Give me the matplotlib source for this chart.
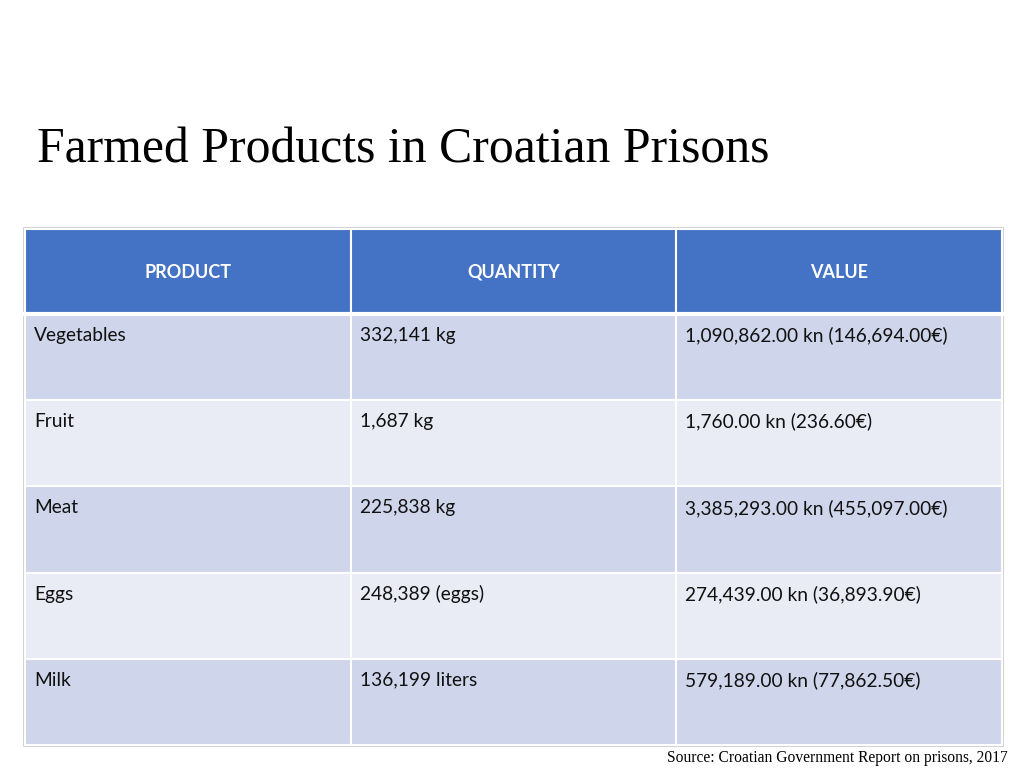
#!/usr/bin/env python3
"""Farmed products table figure."""
import matplotlib
matplotlib.use("Agg")
import matplotlib.pyplot as plt
from matplotlib.patches import Rectangle

TITLE = "Farmed Products in Croatian Prisons"
SOURCE = "Source: Croatian Government Report on prisons, 2017"
HEADERS = ["PRODUCT", "QUANTITY", "VALUE"]
PRODUCTS = ["Vegetables", "Fruit", "Meat", "Eggs", "Milk"]
QUANTITIES = ["332,141 kg", "1,687 kg", "225,838 kg", "248,389 (eggs)", "136,199 liters"]
VALUES = ["1,090,862.00 kn (146,694.00€)", "1,760.00 kn (236.60€)",
          "3,385,293.00 kn (455,097.00€)", "274,439.00 kn (36,893.90€)",
          "579,189.00 kn (77,862.50€)"]

HEAD_C = "#4472C4"
DARK_C = "#CFD5EA"
LIGHT_C = "#E9EBF5"
CELL_FONT = ["Lato", "DejaVu Sans"]


def main():
    fig = plt.figure(figsize=(10.24, 7.68), dpi=100)
    ax = fig.add_axes([0, 0, 1, 1])
    ax.set_xlim(0, 1024)
    ax.set_ylim(768, 0)
    ax.axis("off")

    ax.text(37, 150, TITLE, fontsize=35.8, family="Liberation Serif",
            va="center", ha="left", color="black")

    # table geometry (pixels)
    left, right = 25, 1002
    col_edges = [left, 351, 676, right]
    head_top, head_bot = 229, 314
    row_h = (745 - head_bot) / len(PRODUCTS)

    # outer frame
    ax.add_patch(Rectangle((left - 1, head_top - 1), right - left + 2, 745 - head_top + 2,
                           facecolor="none", edgecolor="#C8C8C8", lw=1.2))

    for j, h in enumerate(HEADERS):
        x0, x1 = col_edges[j], col_edges[j + 1]
        ax.add_patch(Rectangle((x0, head_top), x1 - x0, head_bot - head_top,
                               facecolor=HEAD_C, edgecolor="white", lw=1.5))
        ax.text((x0 + x1) / 2, (head_top + head_bot) / 2 + 1, h, fontsize=13,
                fontweight="bold", color="white", ha="center", va="center",
                family=CELL_FONT)

    rows = list(zip(PRODUCTS, QUANTITIES, VALUES))
    for i, row in enumerate(rows):
        y0 = head_bot + i * row_h
        fc = DARK_C if i % 2 == 0 else LIGHT_C
        for j, val in enumerate(row):
            x0, x1 = col_edges[j], col_edges[j + 1]
            ax.add_patch(Rectangle((x0, y0), x1 - x0, row_h,
                                   facecolor=fc, edgecolor="white", lw=1.5))
            ax.text(x0 + 9, y0 + 21.5, val, fontsize=13.8, color="#111111",
                    ha="left", va="center", family=CELL_FONT)

    # thicker white line under header
    ax.plot([left, right], [head_bot, head_bot], color="white", lw=3)

    ax.text(1008, 758, SOURCE, fontsize=11.2, family="Liberation Serif",
            ha="right", va="center", color="black")

    fig.savefig("out.png", dpi=100)
    plt.close(fig)


if __name__ == "__main__":
    main()
